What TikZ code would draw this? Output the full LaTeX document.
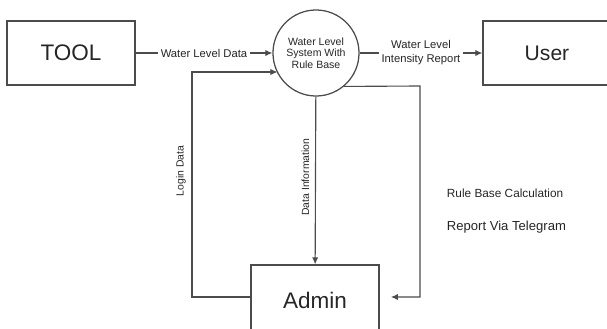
\documentclass[tikz,border=0pt]{standalone}
\usepackage{fontspec}
\setmainfont{Liberation Sans}
\usetikzlibrary{arrows.meta}

\begin{document}
\begin{tikzpicture}[x=0.025cm, y=-0.025cm,
      every node/.style={font=\fontsize{8}{10}\selectfont, text=black!85},
      entity/.style={rectangle, draw=black!70, line width=0.9pt, minimum width=3.2cm, minimum height=1.6cm, inner sep=0pt},
      process/.style={circle, draw=black!70, line width=0.9pt, minimum size=2.15cm, inner sep=0pt, align=center, font=\fontsize{7.5}{8.3}\selectfont},
      flow/.style={draw=black!70, line width=0.8pt, -{Latex[length=5pt, width=4.5pt]}},
      lbl/.style={fill=white, inner sep=2pt, align=center},
      vlbl/.style={rotate=90, anchor=south, inner sep=4pt, font=\fontsize{7.4}{9}\selectfont}
  ]
    \useasboundingbox (0,0) rectangle (607,329);

    \node[entity, font=\fontsize{16}{18}\selectfont] (tool) at (71,53) {TOOL};
    \node[process] (sys) at (316,53) {Water Level\\System With\\Rule Base};
    \node[entity, font=\fontsize{15}{18}\selectfont] (user) at (547,53) {User};
    \node[entity, minimum height=1.75cm, font=\fontsize{16}{18}\selectfont] (admin) at (315,300) {Admin};

    \coordinate (logbot) at (192,297);
    \coordinate (logtop) at (192,72);
    \coordinate (rbtop) at (420,86);
    \coordinate (rbbot) at (420,297);

    \draw[flow] (tool) -- node[lbl] {Water Level Data} (sys);
    \draw[flow] (sys) -- node[lbl] {Water Level\\Intensity Report} (user);
    \draw[flow] (sys) -- node[vlbl, pos=0.48] {Data Information} (admin);
    \draw[flow] (logbot -| admin.west) -- (logbot) -- node[vlbl, pos=0.56] {Login Data} (logtop) -- (logtop -| sys.208);
    \draw[flow, shorten >=8pt] (sys.-50) -- (rbtop) -- (rbbot) -- (rbbot -| admin.east);

    \node[anchor=west, font=\fontsize{8.4}{10}\selectfont] (calc) at (442,193) {Rule Base Calculation};
    \node[anchor=west, font=\fontsize{9.3}{11}\selectfont] (tele) at (442,227) {Report Via Telegram};
  \end{tikzpicture}
\end{document}
